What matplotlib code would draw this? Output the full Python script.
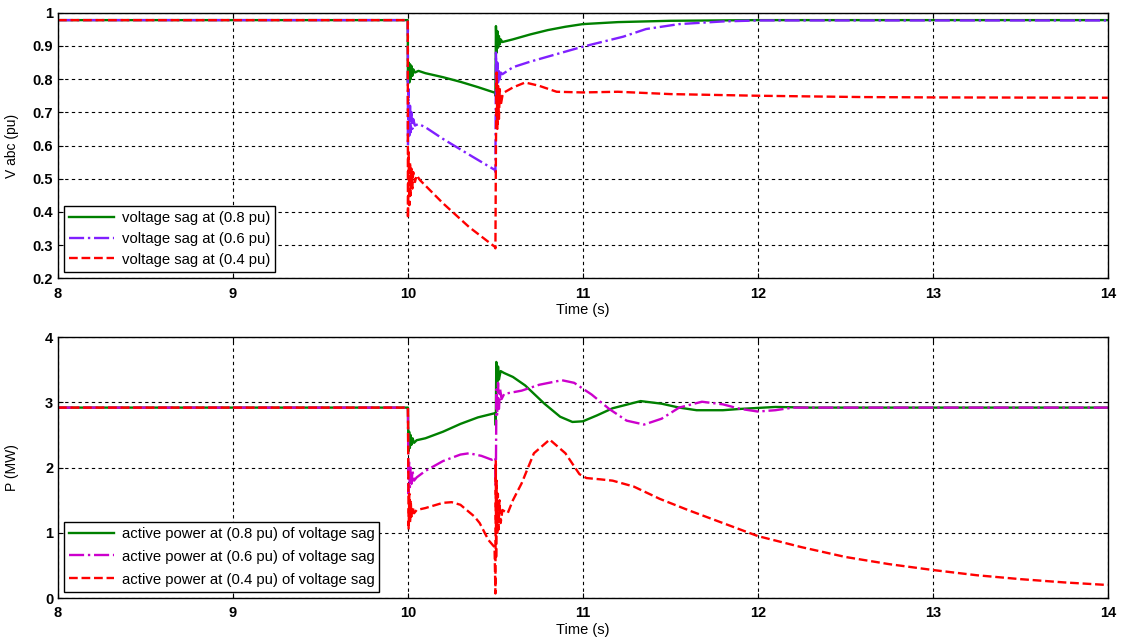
import numpy as np
import matplotlib.pyplot as plt

plt.rcParams['font.family'] = ['Liberation Sans', 'DejaVu Sans']

# --- top panel: voltage (pu) ---
t_v08 = [8, 9.999, 10.0, 10.004, 10.008, 10.012, 10.016, 10.02, 10.025, 10.03, 10.04, 10.06, 10.1,
         10.2, 10.3, 10.4, 10.498, 10.5, 10.503, 10.507, 10.511, 10.515, 10.52, 10.525, 10.53, 10.54,
         10.6, 10.7, 10.8, 10.9, 11.0, 11.2, 11.5, 12.0, 14.0]
v08 = [0.978, 0.978, 0.79, 0.85, 0.79, 0.845, 0.80, 0.84, 0.81, 0.83, 0.82, 0.825, 0.818,
       0.806, 0.792, 0.776, 0.759, 0.75, 0.96, 0.88, 0.945, 0.895, 0.93, 0.905, 0.92, 0.912,
       0.92, 0.935, 0.948, 0.958, 0.966, 0.972, 0.976, 0.978, 0.978]

t_v06 = [8, 9.999, 10.0, 10.004, 10.008, 10.012, 10.016, 10.02, 10.025, 10.03, 10.04, 10.06, 10.1,
         10.2, 10.37, 10.498, 10.5, 10.503, 10.507, 10.511, 10.515, 10.52, 10.525, 10.53, 10.54,
         10.6, 10.7, 10.8, 11.0, 11.23, 11.36, 11.55, 11.8, 12.0, 14.0]
v06 = [0.978, 0.978, 0.60, 0.77, 0.63, 0.72, 0.64, 0.70, 0.65, 0.68, 0.66, 0.665, 0.655,
       0.62, 0.566, 0.526, 0.52, 0.88, 0.78, 0.85, 0.79, 0.83, 0.80, 0.82, 0.815,
       0.836, 0.853, 0.868, 0.898, 0.928, 0.951, 0.966, 0.974, 0.977, 0.977]

t_v04 = [8, 9.999, 10.0, 10.004, 10.008, 10.012, 10.016, 10.02, 10.025, 10.03, 10.04, 10.05, 10.07,
         10.2, 10.35, 10.498, 10.5, 10.503, 10.507, 10.511, 10.515, 10.52, 10.525, 10.53, 10.54,
         10.55, 10.6, 10.67, 10.75, 10.85, 11.0, 11.2, 11.5, 12.0, 12.6, 13.0, 14.0]
v04 = [0.978, 0.978, 0.38, 0.58, 0.42, 0.55, 0.45, 0.53, 0.47, 0.52, 0.49, 0.51, 0.495,
       0.426, 0.354, 0.294, 0.29, 0.60, 0.82, 0.65, 0.78, 0.68, 0.77, 0.72, 0.75,
       0.76, 0.775, 0.79, 0.78, 0.762, 0.76, 0.762, 0.755, 0.75, 0.746, 0.745, 0.744]

# --- bottom panel: active power (MW) ---
t_p08 = [8, 9.999, 10.0, 10.003, 10.007, 10.011, 10.015, 10.02, 10.026, 10.035, 10.05, 10.1, 10.2,
         10.3, 10.4, 10.49, 10.5, 10.502, 10.505, 10.51, 10.515, 10.52, 10.53, 10.55, 10.6, 10.67,
         10.78, 10.87, 10.94, 11.0, 11.08, 11.17, 11.33, 11.45, 11.55, 11.65, 11.8, 11.9, 12.1,
         12.3, 14.0]
p08 = [2.92, 2.92, 2.92, 2.25, 2.55, 2.3, 2.5, 2.35, 2.45, 2.38, 2.42, 2.45, 2.55,
       2.67, 2.77, 2.83, 2.83, 2.65, 3.62, 3.25, 3.55, 3.35, 3.48, 3.45, 3.39, 3.26,
       2.98, 2.78, 2.70, 2.71, 2.8, 2.91, 3.02, 2.98, 2.92, 2.88, 2.88, 2.9, 2.93,
       2.92, 2.92]

t_p06 = [8, 9.999, 10.0, 10.003, 10.007, 10.011, 10.015, 10.02, 10.026, 10.035, 10.05, 10.1, 10.2,
         10.3, 10.35, 10.42, 10.48, 10.5, 10.502, 10.506, 10.51, 10.515, 10.52, 10.527, 10.535,
         10.55, 10.65, 10.75, 10.88, 10.95, 11.05, 11.15, 11.25, 11.35, 11.45, 11.55, 11.68, 11.8,
         11.9, 12.0, 12.1, 12.2, 14.0]
p06 = [2.92, 2.92, 2.92, 1.6, 2.1, 1.7, 2.0, 1.75, 1.95, 1.8, 1.85, 1.95, 2.1,
       2.2, 2.22, 2.18, 2.12, 2.15, 1.7, 3.2, 2.8, 3.3, 2.9, 3.2, 3.05,
       3.13, 3.18, 3.27, 3.34, 3.3, 3.12, 2.9, 2.72, 2.66, 2.75, 2.92, 3.01, 2.97,
       2.9, 2.86, 2.88, 2.92, 2.92]

t_p04 = [8, 9.999, 10.0, 10.004, 10.008, 10.012, 10.016, 10.02, 10.027, 10.035, 10.05, 10.1, 10.2,
         10.25, 10.3, 10.38, 10.41, 10.46, 10.495, 10.5, 10.502, 10.504, 10.507, 10.51, 10.514,
         10.518, 10.523, 10.53, 10.54, 10.57, 10.6, 10.65, 10.72, 10.81, 10.9, 10.98, 11.02, 11.1,
         11.17, 11.29, 11.44, 11.6, 11.8, 12.0, 12.25, 12.5, 12.75, 13.0, 13.25, 13.5, 13.75, 14.0]
p04 = [2.92, 2.92, 2.92, 1.05, 1.6, 1.15, 1.5, 1.25, 1.4, 1.3, 1.35, 1.38, 1.46,
       1.47, 1.43, 1.25, 1.15, 0.89, 0.78, 0.07, 2.1, 0.6, 1.8, 1.0, 1.6,
       1.05, 1.5, 1.15, 1.35, 1.3, 1.5, 1.76, 2.22, 2.43, 2.22, 1.9, 1.84, 1.82,
       1.80, 1.71, 1.52, 1.35, 1.15, 0.95, 0.78, 0.63, 0.52, 0.43, 0.35, 0.29, 0.24, 0.2]

green = '#008000'
violet = '#8020FF'
magenta = '#CC00CC'
red = '#FF0000'
lw = 1.7

fig = plt.figure(figsize=(11.24, 6.41), dpi=100)
ax1 = fig.add_axes([0.0516, 0.566, 0.934, 0.414])
ax2 = fig.add_axes([0.0516, 0.067, 0.934, 0.407])

ax1.plot(t_v08, v08, color=green, lw=lw, label='voltage sag at (0.8 pu)')
ax1.plot(t_v06, v06, color=violet, lw=lw, ls='-.', label='voltage sag at (0.6 pu)')
ax1.plot(t_v04, v04, color=red, lw=lw, ls='--', label='voltage sag at (0.4 pu)')

ax2.plot(t_p08, p08, color=green, lw=lw, label='active power at (0.8 pu) of voltage sag')
ax2.plot(t_p06, p06, color=magenta, lw=lw, ls='-.', label='active power at (0.6 pu) of voltage sag')
ax2.plot(t_p04, p04, color=red, lw=lw, ls='--', label='active power at (0.4 pu) of voltage sag')

ax1.set_ylim(0.2, 1.0)
ax1.set_yticks(np.arange(0.2, 1.01, 0.1))
ax1.set_yticklabels(['0.2', '0.3', '0.4', '0.5', '0.6', '0.7', '0.8', '0.9', '1'])
ax1.set_ylabel('V abc (pu)', fontsize=10)
ax2.set_ylim(0, 4)
ax2.set_yticks([0, 1, 2, 3, 4])
ax2.set_ylabel('P (MW)', fontsize=10)

for ax, spacing in ((ax1, 0.45), (ax2, 0.6)):
    ax.set_xlim(8, 14)
    ax.set_xticks(range(8, 15))
    ax.set_xlabel('Time (s)', fontsize=10.5, labelpad=2)
    ax.grid(True, color='black', ls=(0, (3, 3)), lw=0.8)
    ax.tick_params(direction='in', top=True, right=True, labelsize=10.5)
    ax.tick_params(axis='x', pad=6)
    for lab in ax.get_xticklabels() + ax.get_yticklabels():
        lab.set_fontweight('bold')
    for sp in ax.spines.values():
        sp.set_linewidth(1.0)
    ax.legend(loc='lower left', bbox_to_anchor=(0.006, 0.024), fontsize=10.7, handlelength=3,
              fancybox=False, edgecolor='black', framealpha=1, borderaxespad=0,
              borderpad=0.35, labelspacing=spacing, handletextpad=0.5)

ax1.yaxis.set_label_coords(-0.037, 0.5)
ax2.yaxis.set_label_coords(-0.037, 0.5)

fig.savefig('out.png', dpi=100)
